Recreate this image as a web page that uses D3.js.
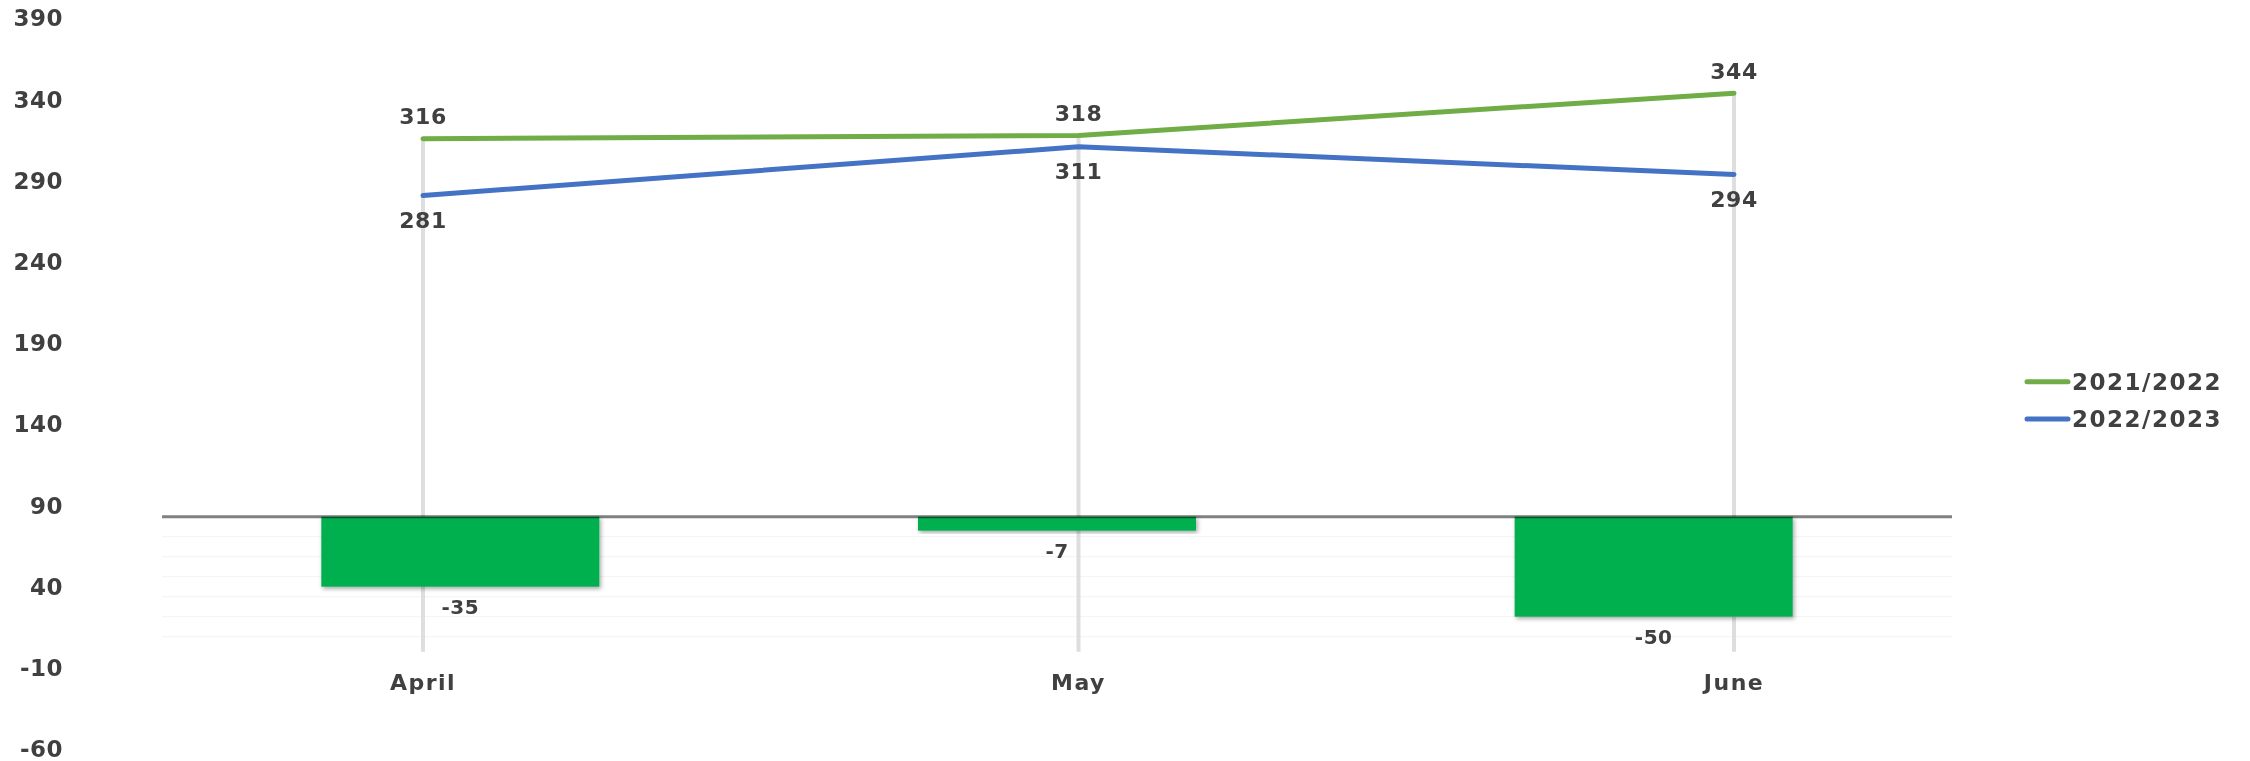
<!DOCTYPE html>
<html>
<head>
<meta charset="utf-8">
<script src="https://cdn.jsdelivr.net/npm/d3@7"></script>
<style>
  html, body { margin: 0; padding: 0; background: #ffffff; }
  svg { display: block; }
  text { font-family: "DejaVu Sans", Verdana, sans-serif; font-weight: bold; fill: #404040; }
</style>
</head>
<body>
<svg id="chart" width="2250" height="761"></svg>
<script>
// ---- data ----
const months = ["April", "May", "June"];
const series2122 = [316, 318, 344];
const series2223 = [281, 311, 294];
const diffs = [-35, -7, -50];
const seriesNames = ["2021/2022", "2022/2023"];
const yTicks = [390, 340, 290, 240, 190, 140, 90, 40, -10, -60];
const gridTicksSec = [-10, -20, -30, -40, -50, -60];

const colors = { s1: "#70AD47", s2: "#4472C4", bar: "#00B050" };

const svg = d3.select("#chart");

// ---- scales ----
const yLeft = d3.scaleLinear().domain([-60, 390]).range([749.3, 18.5]);
const ySec = d3.scaleLinear().domain([-60, 0]).range([516.7 + 120, 516.7]);
const xLine = d3.scaleBand().domain(months).range([95.25, 2061.75]);
const xBar = d3.scaleBand().domain(months).range([162, 1952]).paddingInner(0.534).paddingOuter(0.267);
const cx = m => xLine(m) + xLine.bandwidth() / 2;
const bx = m => xBar(m) + xBar.bandwidth() / 2;

// ---- defs ----
const defs = svg.append("defs");
const f = defs.append("filter").attr("id", "shadow").attr("x", "-10%").attr("y", "-10%").attr("width", "120%").attr("height", "130%");
f.append("feDropShadow").attr("dx", 1.5).attr("dy", 2).attr("stdDeviation", 2).attr("flood-color", "#000").attr("flood-opacity", 0.35);

// ---- faint secondary gridlines ----
svg.append("g").selectAll("line").data(gridTicksSec).join("line")
  .attr("x1", 162).attr("x2", 1952)
  .attr("y1", d => ySec(d)).attr("y2", d => ySec(d))
  .attr("stroke", "#f3f3f3").attr("stroke-width", 1);

// ---- y axis labels ----
const yAxis = d3.axisLeft(yLeft).tickValues(yTicks).tickSize(0).tickPadding(0).tickFormat(d => String(d));
const gy = svg.append("g").attr("transform", "translate(63,0)").call(yAxis);
gy.select(".domain").remove();
gy.selectAll("text").style("font-size", "23px").attr("fill", "#404040")
  .style("font-family", "'DejaVu Sans', Verdana, sans-serif").style("font-weight", "bold")
  .style("letter-spacing", "0.5px");

// ---- x axis labels ----
const xAxis = d3.axisBottom(xLine).tickSize(0).tickPadding(0);
const gx = svg.append("g").attr("transform", "translate(0,674)").call(xAxis);
gx.select(".domain").remove();
gx.selectAll("text").style("font-size", "22px").attr("fill", "#404040")
  .style("font-family", "'DejaVu Sans', Verdana, sans-serif").style("font-weight", "bold")
  .style("letter-spacing", "1.5px");

// ---- drop lines ----
svg.append("g").selectAll("line").data(months).join("line")
  .attr("x1", d => cx(d)).attr("x2", d => cx(d))
  .attr("y1", (d, i) => yLeft(Math.max(series2122[i], series2223[i])))
  .attr("y2", yLeft(0))
  .attr("stroke", "#dedede").attr("stroke-width", 4);

// ---- bars ----
svg.append("g").selectAll("rect").data(diffs).join("rect")
  .attr("x", (d, i) => xBar(months[i]))
  .attr("width", xBar.bandwidth())
  .attr("y", d => ySec(Math.max(0, d)))
  .attr("height", d => Math.abs(ySec(d) - ySec(0)))
  .attr("fill", colors.bar)
  .attr("filter", "url(#shadow)");

// ---- baseline (zero of secondary axis) ----
svg.append("line")
  .attr("x1", 162).attr("x2", 1952)
  .attr("y1", ySec(0)).attr("y2", ySec(0))
  .attr("stroke", "#808080").attr("stroke-width", 3)
  .style("mix-blend-mode", "multiply");

// ---- bar labels ----
svg.append("g").selectAll("text").data(diffs).join("text")
  .attr("x", (d, i) => bx(months[i]))
  .attr("y", d => ySec(d) + 20.5)
  .attr("text-anchor", "middle").attr("dominant-baseline", "central")
  .style("font-size", "20px").style("letter-spacing", "0.5px")
  .text(d => String(d));

// ---- lines ----
const line = d3.line().x((d, i) => cx(months[i])).y(d => yLeft(d));
svg.append("path").datum(series2223).attr("d", line)
  .attr("fill", "none").attr("stroke", colors.s2).attr("stroke-width", 5)
  .attr("stroke-linecap", "round").attr("stroke-linejoin", "round");
svg.append("path").datum(series2122).attr("d", line)
  .attr("fill", "none").attr("stroke", colors.s1).attr("stroke-width", 5)
  .attr("stroke-linecap", "round").attr("stroke-linejoin", "round");

// ---- line labels ----
svg.append("g").selectAll("text").data(series2122).join("text")
  .attr("x", (d, i) => cx(months[i])).attr("y", d => yLeft(d) - 22)
  .attr("text-anchor", "middle").attr("dominant-baseline", "central")
  .style("font-size", "22px").style("letter-spacing", "0.5px").text(d => d);
svg.append("g").selectAll("text").data(series2223).join("text")
  .attr("x", (d, i) => cx(months[i])).attr("y", d => yLeft(d) + 25)
  .attr("text-anchor", "middle").attr("dominant-baseline", "central")
  .style("font-size", "22px").style("letter-spacing", "0.5px").text(d => d);

// ---- legend ----
const legendColors = [colors.s1, colors.s2];
const lg = svg.append("g").selectAll("g").data(seriesNames).join("g")
  .attr("transform", (d, i) => `translate(2027,${381.7 + i * 37.3})`);
lg.append("line").attr("x1", 0).attr("x2", 41).attr("y1", 0).attr("y2", 0)
  .attr("stroke", (d, i) => legendColors[i]).attr("stroke-width", 5).attr("stroke-linecap", "round");
lg.append("text").attr("x", 45).attr("y", 0).attr("dominant-baseline", "central")
  .style("font-size", "23px").style("letter-spacing", "1.5px").text(d => d);
</script>
</body>
</html>
